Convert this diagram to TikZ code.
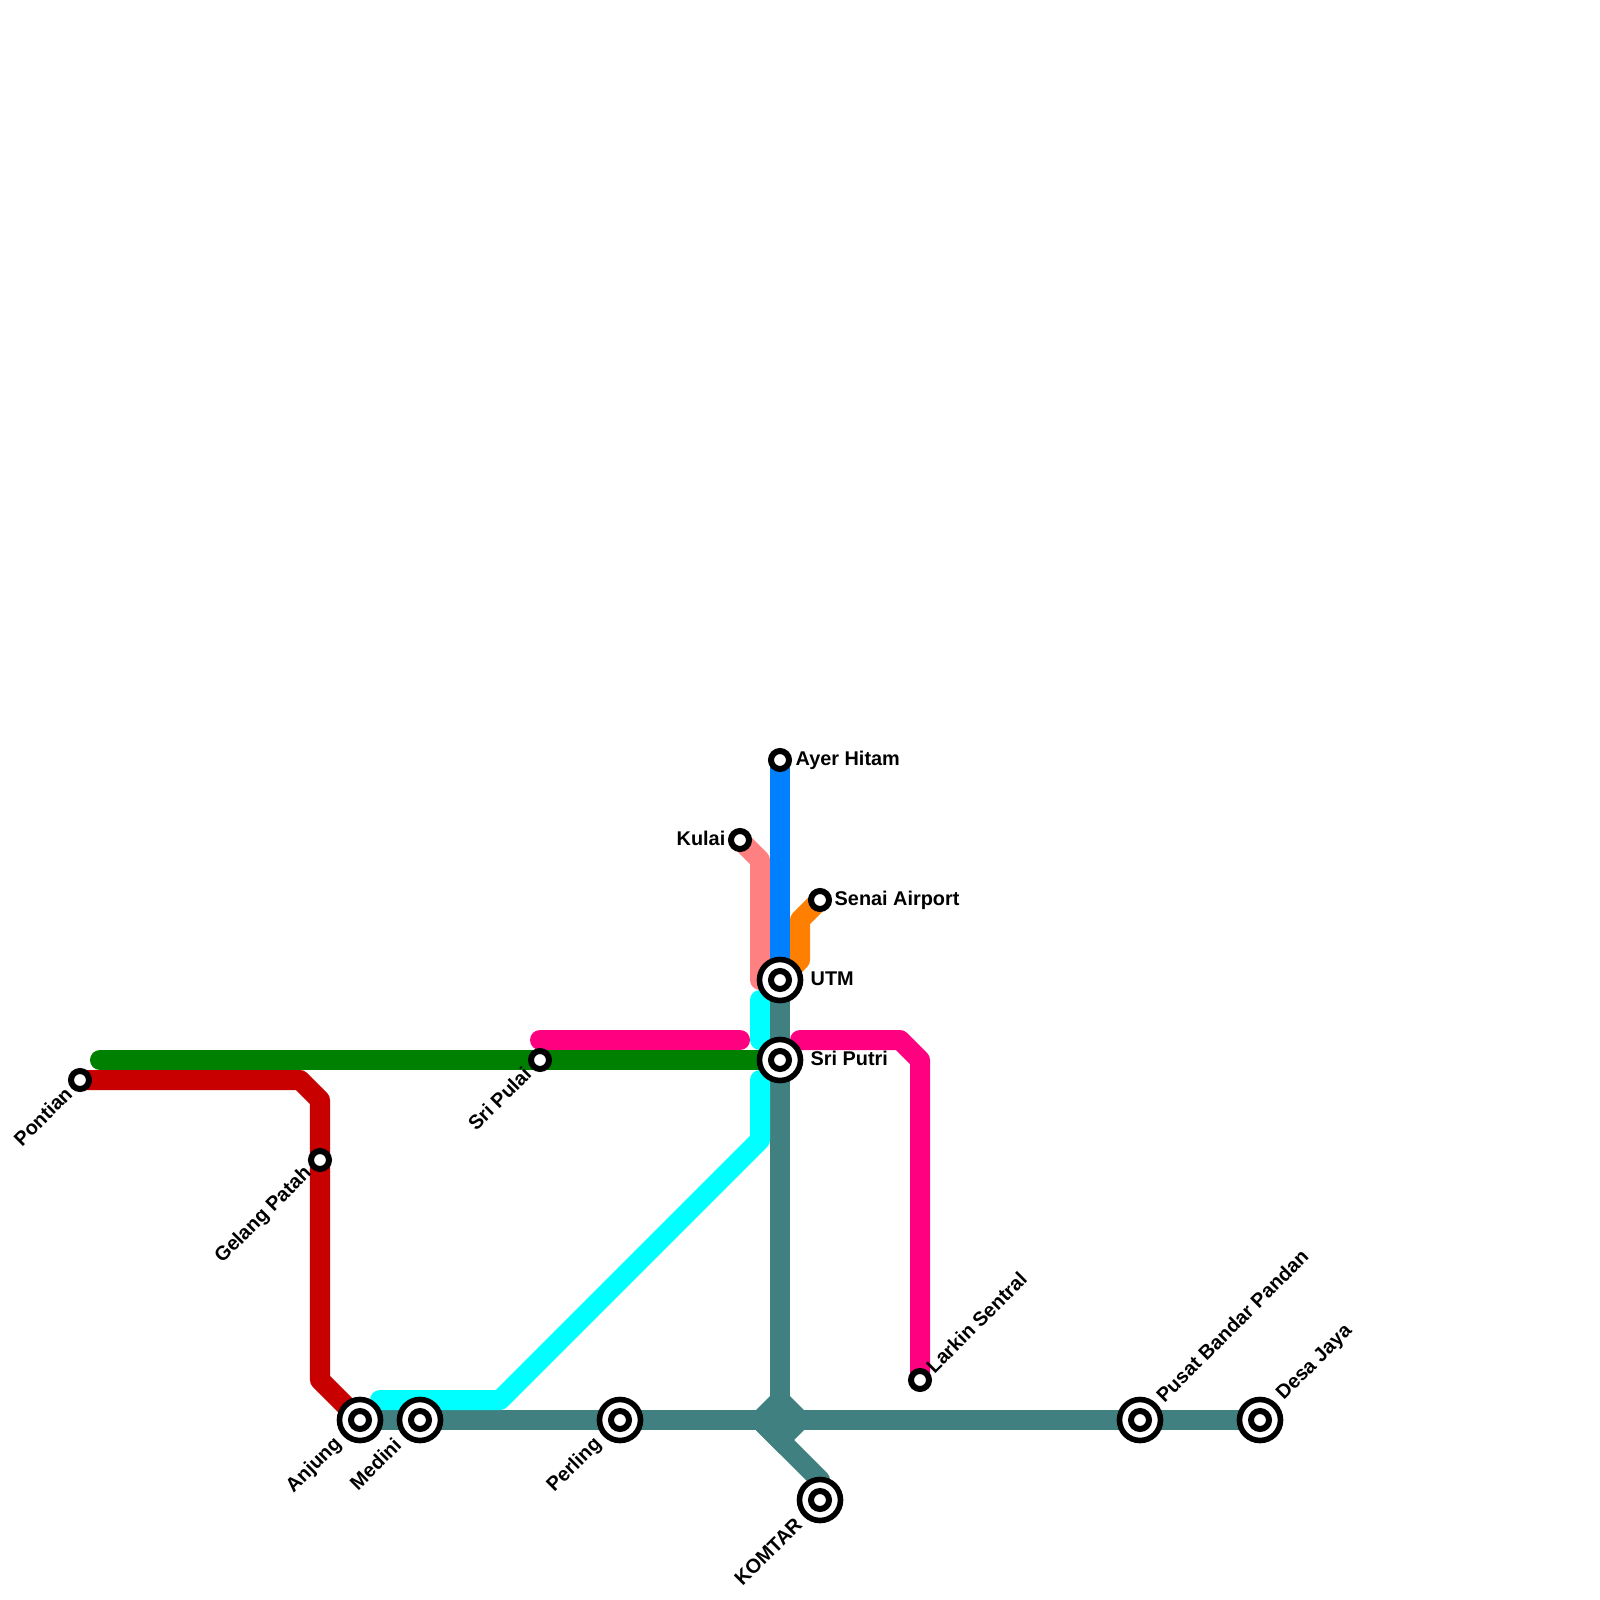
\documentclass[tikz,border=0pt]{standalone}
\usepackage{fontspec}
\setmainfont{Liberation Sans}
\definecolor{tealline}{HTML}{408080}
\definecolor{redline}{HTML}{C80000}
\definecolor{greenline}{HTML}{008000}
\definecolor{cyanline}{HTML}{00FFFF}
\definecolor{blueline}{HTML}{0080FF}
\definecolor{salmonline}{HTML}{FF8080}
\definecolor{orangeline}{HTML}{FF8000}
\definecolor{pinkline}{HTML}{FF0080}
\tikzset{
    rail/.style={line width=.2cm,line join=round,line cap=round},
    stn/.style={circle,draw=black,fill=white,line width=.06cm,minimum size=.18cm,inner sep=0pt},
    bigstn/.style={circle,draw=black,fill=white,line width=.056cm,minimum size=.41cm,inner sep=0pt},
    txt/.style={inner sep=0pt,font=\fontsize{5.65}{6.7}\selectfont\bfseries},
}
\begin{document}
\begin{tikzpicture}[x=.01cm,y=-.01cm]
    \useasboundingbox (0,0) rectangle (1600,1600);
    \coordinate (pontian) at (80,1080);
    \coordinate (gelang) at (320,1160);
    \coordinate (anjung) at (360,1420);
    \coordinate (medini) at (420,1420);
    \coordinate (perling) at (620,1420);
    \coordinate (sripulai) at (540,1060);
    \coordinate (junction) at (780,1420);
    \coordinate (komtar) at (820,1500);
    \coordinate (utm) at (780,980);
    \coordinate (sriputri) at (780,1060);
    \coordinate (ayer) at (780,760);
    \coordinate (kulai) at (740,840);
    \coordinate (senai) at (820,900);
    \coordinate (larkin) at (920,1380);
    \coordinate (pbp) at (1140,1420);
    \coordinate (desa) at (1260,1420);

    \draw[rail,tealline] (utm)--(junction);
    \draw[rail,tealline] (anjung)--(desa);
    \draw[rail,tealline] (760,1420)--(820,1480)--(komtar);
    \fill[tealline] (746,1420)--(780,1386)--(814,1420)--(780,1454)--cycle;
    \draw[rail,redline] (pontian)--(300,1080)--(320,1100)--(gelang)--(320,1380)--(anjung);
    \draw[rail,greenline] (100,1060)--(sripulai)--(sriputri);
    \draw[rail,cyanline] (760,1000)--(760,1040);
    \draw[rail,cyanline] (760,1080)--(760,1140)--(500,1400)--(380,1400);
    \draw[rail,pinkline] (540,1040)--(740,1040);
    \draw[rail,pinkline] (800,1040)--(900,1040)--(920,1060)--(larkin);
    \draw[rail,salmonline] (kulai)--(760,860)--(760,980)--(utm);
    \draw[rail,orangeline] (senai)--(800,920)--(800,960)--(utm);
    \draw[rail,blueline] (ayer)--(utm);

    \foreach \p in {pontian,gelang,sripulai,ayer,kulai,senai,larkin}
        \node[stn] (s-\p) at (\p) {};
    \foreach \p in {anjung,medini,perling,komtar,utm,sriputri,pbp,desa} {
        \node[bigstn] (o-\p) at (\p) {};
        \node[stn] (s-\p) at (\p) {};
    }

    \node[txt,anchor=west] (l-ayer) at (795,760) {Ayer Hitam};
    \node[txt,anchor=east] (l-kulai) at (726,838) {Kulai};
    \node[txt,anchor=west] (l-senai) at (834,900) {Senai Airport};
    \node[txt,anchor=west] (l-utm) at (810,979) {UTM};
    \node[txt,anchor=west] (l-sriputri) at (810,1058) {Sri Putri};
    \node[txt,anchor=east,rotate=45] (l-pontian) at (69,1090) {Pontian};
    \node[txt,anchor=east,rotate=45] (l-gelang) at (309,1170) {Gelang Patah};
    \node[txt,anchor=east,rotate=45] (l-sripulai) at (528,1070) {Sri Pulai};
    \node[txt,anchor=east,rotate=45] (l-anjung) at (339,1441) {Anjung};
    \node[txt,anchor=east,rotate=45] (l-medini) at (398,1441) {Medini};
    \node[txt,anchor=east,rotate=45] (l-perling) at (599,1441) {Perling};
    \node[txt,anchor=east,rotate=45] (l-komtar) at (799,1521) {KOMTAR};
    \node[txt,anchor=west,rotate=45] (l-larkin) at (929,1370) {Larkin Sentral};
    \node[txt,anchor=west,rotate=45] (l-pbp) at (1159,1399) {Pusat Bandar Pandan};
    \node[txt,anchor=west,rotate=45] (l-desa) at (1280,1398) {Desa Jaya};
\end{tikzpicture}
\end{document}
